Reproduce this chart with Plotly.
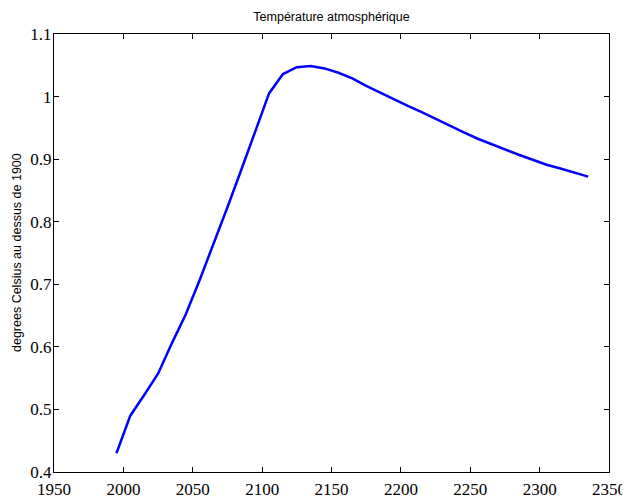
import plotly.graph_objects as go

years = [1995, 2005, 2015, 2025, 2035, 2045, 2055, 2065, 2075, 2085, 2095,
         2105, 2115, 2125, 2135, 2145, 2155, 2165, 2175, 2185, 2195,
         2205, 2215, 2225, 2235, 2245, 2255, 2265, 2275, 2285, 2295,
         2305, 2315, 2325, 2335]
temperature = [0.430, 0.490, 0.523, 0.557, 0.606, 0.652, 0.707, 0.764, 0.823, 0.883, 0.944,
               1.005, 1.036, 1.047, 1.049, 1.045, 1.038, 1.029, 1.017, 1.006, 0.996,
               0.985, 0.975, 0.964, 0.953, 0.943, 0.933, 0.924, 0.916, 0.907, 0.899,
               0.891, 0.885, 0.878, 0.872]

x_ticks = [1950, 2000, 2050, 2100, 2150, 2200, 2250, 2300, 2350]
y_ticks = [0.4, 0.5, 0.6, 0.7, 0.8, 0.9, 1.0, 1.1]
y_tick_labels = ["0.4", "0.5", "0.6", "0.7", "0.8", "0.9", "1", "1.1"]

SERIF = "'Liberation Serif', 'Times New Roman', Times, serif"
SANS = "'Liberation Sans', Arial, Helvetica, sans-serif"

W, H = 622, 491
ML, MR, MT, MB = 46, 21, 26, 27

fig = go.Figure()
fig.add_trace(go.Scatter(x=years, y=temperature, mode="lines",
                         line=dict(color="#0000FF", width=2.5), showlegend=False))

axis_common = dict(showline=True, linecolor="black", linewidth=1, mirror="ticks",
                   ticks="inside", ticklen=5, tickcolor="black", tickwidth=1,
                   showgrid=False, zeroline=False, automargin=False,
                   tickfont=dict(family=SERIF, size=17, color="black"))

fig.update_xaxes(range=[1950, 2350], tickvals=x_ticks,
                 ticktext=[str(v) for v in x_ticks], ticklabelstandoff=2, **axis_common)
fig.update_yaxes(range=[0.4, 1.1], tickvals=y_ticks, ticktext=y_tick_labels,
                 ticklabelstandoff=-2, **axis_common)

fig.update_layout(
    width=W, height=H, autosize=False,
    margin=dict(l=ML, r=MR, t=MT, b=MB),
    paper_bgcolor="white", plot_bgcolor="white",
    title=dict(text="Température atmosphérique", x=323.5 / W, xanchor="center",
               y=1 - 9 / H, yanchor="middle", automargin=False,
               font=dict(family=SANS, size=12.5, color="black")),
    annotations=[dict(text="degrees Celsius au dessus de 1900", xref="paper", yref="paper",
                      x=(9 - ML) / (W - ML - MR), y=0.5, xanchor="center", yanchor="middle",
                      textangle=-90, showarrow=False,
                      font=dict(family=SANS, size=12.5, color="black"))],
)

fig.write_html("out.html")
